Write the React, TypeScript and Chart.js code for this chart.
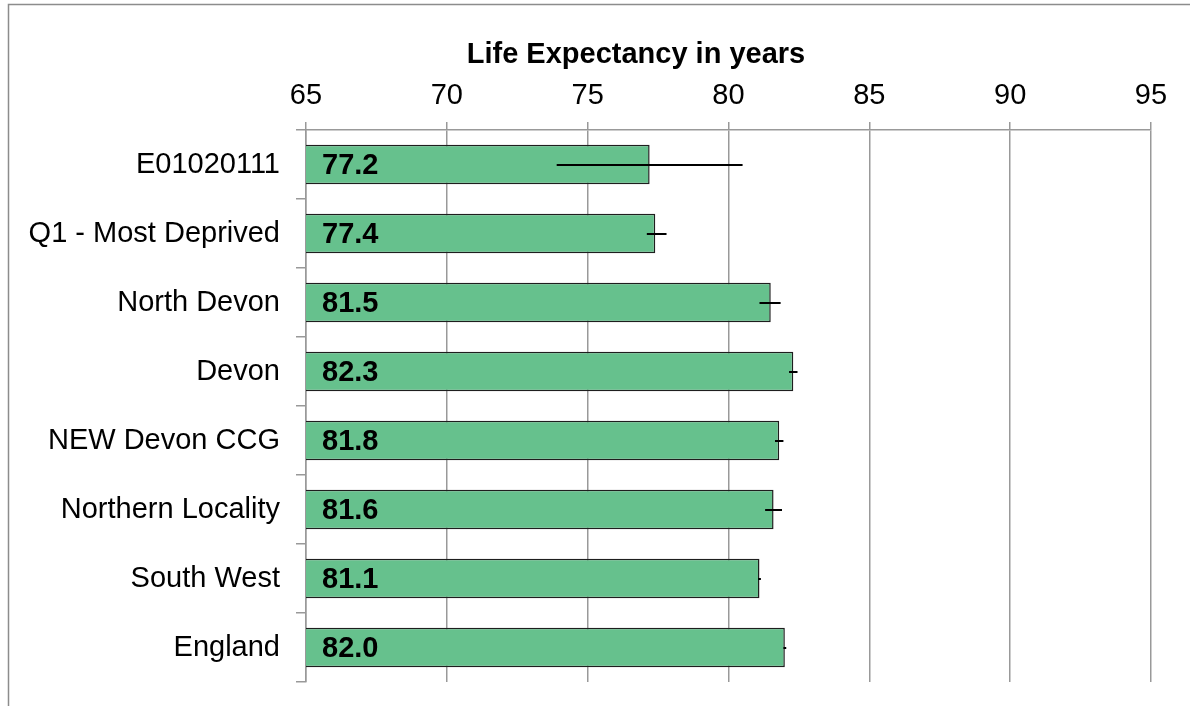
import React, { useEffect, useRef } from 'react';
import { Chart, registerables } from 'chart.js';

Chart.register(...registerables);

const categories = [
  'E01020111',
  'Q1 - Most Deprived',
  'North Devon',
  'Devon',
  'NEW Devon CCG',
  'Northern Locality',
  'South West',
  'England',
];
const values = [77.2, 77.4, 81.5, 82.3, 81.8, 81.6, 81.1, 82.0];
const lowerCI = [73.9, 77.1, 81.1, 82.15, 81.65, 81.3, 81.05, 81.95];
const upperCI = [80.5, 77.8, 81.85, 82.45, 81.95, 81.9, 81.15, 82.05];
const xMin = 65;
const xMax = 95;
const xStep = 5;
const axisTitle = 'Life Expectancy in years';

const FONT = "'Liberation Sans', Arial, Helvetica, sans-serif";
const FS = 29;

export default function App() {
  const ref = useRef<HTMLCanvasElement>(null);

  useEffect(() => {
    if (!ref.current) return;

    const frame = {
      id: 'frame',
      beforeDraw(chart: any) {
        const ctx = chart.ctx;
        ctx.save();
        ctx.strokeStyle = '#8c8c8c';
        ctx.lineWidth = 1.5;
        ctx.beginPath();
        ctx.moveTo(8.5, 706);
        ctx.lineTo(8.5, 4.5);
        ctx.lineTo(1190, 4.5);
        ctx.stroke();
        ctx.fillStyle = '#000';
        ctx.font = `bold ${FS}px ${FONT}`;
        ctx.textAlign = 'center';
        ctx.textBaseline = 'alphabetic';
        ctx.fillText(axisTitle, 636, 63);
        ctx.restore();
      },
    };

    const overlay = {
      id: 'overlay',
      afterDatasetsDraw(chart: any) {
        const ctx = chart.ctx;
        const xs = chart.scales.x;
        const ys = chart.scales.y;
        ctx.save();
        ctx.strokeStyle = '#000';
        ctx.lineWidth = 2;
        for (let i = 0; i < values.length; i++) {
          const yc = Math.round(ys.getPixelForValue(i));
          ctx.beginPath();
          ctx.moveTo(xs.getPixelForValue(lowerCI[i]), yc);
          ctx.lineTo(xs.getPixelForValue(upperCI[i]), yc);
          ctx.stroke();
        }
        ctx.fillStyle = '#000';
        ctx.font = `bold ${FS}px ${FONT}`;
        ctx.textAlign = 'left';
        ctx.textBaseline = 'middle';
        for (let i = 0; i < values.length; i++) {
          const yc = ys.getPixelForValue(i);
          ctx.fillText(values[i].toFixed(1), chart.chartArea.left + 16, yc + 1);
        }
        ctx.restore();
      },
    };

    const chart = new Chart(ref.current, {
      type: 'bar',
      data: {
        labels: categories,
        datasets: [
          {
            data: values,
            backgroundColor: '#66c18d',
            borderColor: '#1e1e1e',
            borderWidth: 1.5,
            borderSkipped: false,
            barPercentage: 0.57,
            categoryPercentage: 1,
          },
        ],
      },
      options: {
        indexAxis: 'y',
        responsive: false,
        animation: false,
        devicePixelRatio: 1,
        layout: { padding: { left: 0, right: 39, top: 0, bottom: 24 } },
        plugins: {
          legend: { display: false },
          tooltip: { enabled: false },
          title: { display: false },
        },
        scales: {
          x: {
            position: 'top',
            min: xMin,
            max: xMax,
            ticks: {
              stepSize: xStep,
              color: '#000',
              font: { family: FONT, size: FS },
              padding: 9,
              maxRotation: 0,
            },
            grid: { color: '#999', lineWidth: 1.5, tickLength: 8, drawTicks: true },
            border: { color: '#999', width: 1.5 },
            afterFit(s: any) {
              s.height = 130;
              s.paddingLeft = 0;
              s.paddingRight = 0;
            },
          },
          y: {
            grid: {
              offset: true,
              drawOnChartArea: false,
              color: '#999',
              lineWidth: 1.5,
              tickLength: 10,
            },
            border: { color: '#999', width: 1.5 },
            ticks: {
              color: '#000',
              font: { family: FONT, size: FS },
              padding: 16,
            },
            afterFit(s: any) {
              s.width = 306;
              s.paddingTop = 0;
              s.paddingBottom = 0;
            },
          },
        },
      },
      plugins: [frame, overlay],
    } as any);

    return () => chart.destroy();
  }, []);

  return (
    <div style={{ position: 'fixed', left: 0, top: 0, width: 1190, height: 706, background: '#fff' }}>
      <canvas ref={ref} width={1190} height={706} style={{ display: 'block' }} />
    </div>
  );
}
